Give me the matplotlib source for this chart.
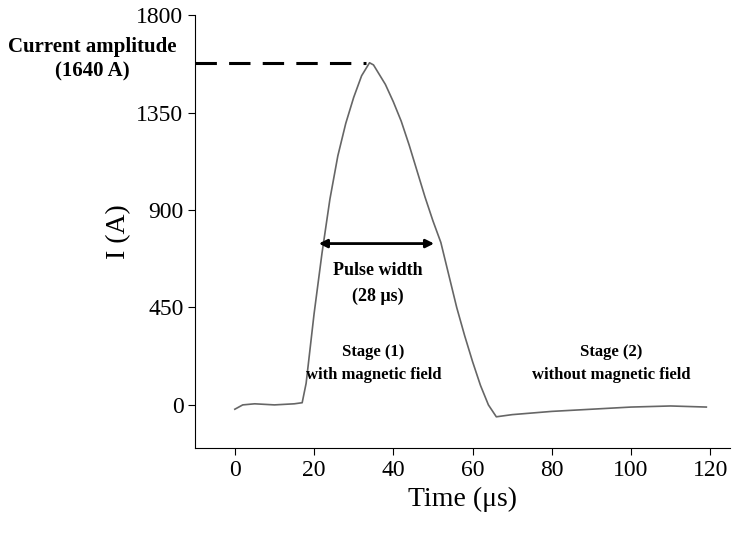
import matplotlib
matplotlib.use('Agg')
import matplotlib.pyplot as plt

plt.rcParams['font.family'] = ['Liberation Serif', 'DejaVu Serif']

# current pulse
time_us = [0, 2, 5, 10, 15, 17, 18, 20, 22, 24, 26, 28, 30, 32, 34, 35, 36, 38, 40, 42,
           44, 46, 48, 50, 52, 54, 56, 58, 60, 62, 64, 66, 70, 80, 90, 100, 110, 119]
current_a = [-20, 0, 5, 0, 5, 10, 100, 420, 700, 950, 1150, 1300, 1420, 1520, 1580, 1570,
             1540, 1480, 1400, 1310, 1200, 1080, 960, 850, 750, 600, 450, 320, 200, 90,
             0, -55, -45, -30, -20, -10, -5, -10]
yticks = [0, 450, 900, 1350, 1800]
xticks = [0, 20, 40, 60, 80, 100, 120]
peak = 1580

fig = plt.figure(figsize=(7.45, 5.4), dpi=100)
ax = fig.add_axes([0.262, 0.170, 0.718, 0.802])
ax.plot(time_us, current_a, color='#666666', lw=1.2)
ax.set_xlim(-10, 125)
ax.set_ylim(-200, 1800)
ax.set_xticks(xticks)
ax.set_yticks(yticks)
ax.tick_params(labelsize=17, direction='out', length=5)
for s in ['top', 'right']:
    ax.spines[s].set_visible(False)
ax.set_xlabel('Time (μs)', fontsize=20)
ax.set_ylabel('I (A)', fontsize=20)

ax.plot([-10, 33], [peak, peak], ls=(0, (7, 4)), color='black', lw=2.2)
ax.text(-36, 1595, 'Current amplitude\n(1640 A)', ha='center', va='center',
        fontsize=15, fontweight='bold', linespacing=1.3)
ax.annotate('', xy=(20.5, 745), xytext=(51, 745),
            arrowprops=dict(arrowstyle='<|-|>', color='black', lw=2, mutation_scale=12))
ax.text(36, 560, 'Pulse width\n(28 μs)', ha='center', va='center', fontsize=13,
        fontweight='bold', linespacing=1.6)
ax.text(35, 190, 'Stage (1)\nwith magnetic field', ha='center', va='center', fontsize=12,
        fontweight='bold', linespacing=1.6)
ax.text(95, 190, 'Stage (2)\nwithout magnetic field', ha='center', va='center', fontsize=12,
        fontweight='bold', linespacing=1.6)

fig.savefig('out.png')
